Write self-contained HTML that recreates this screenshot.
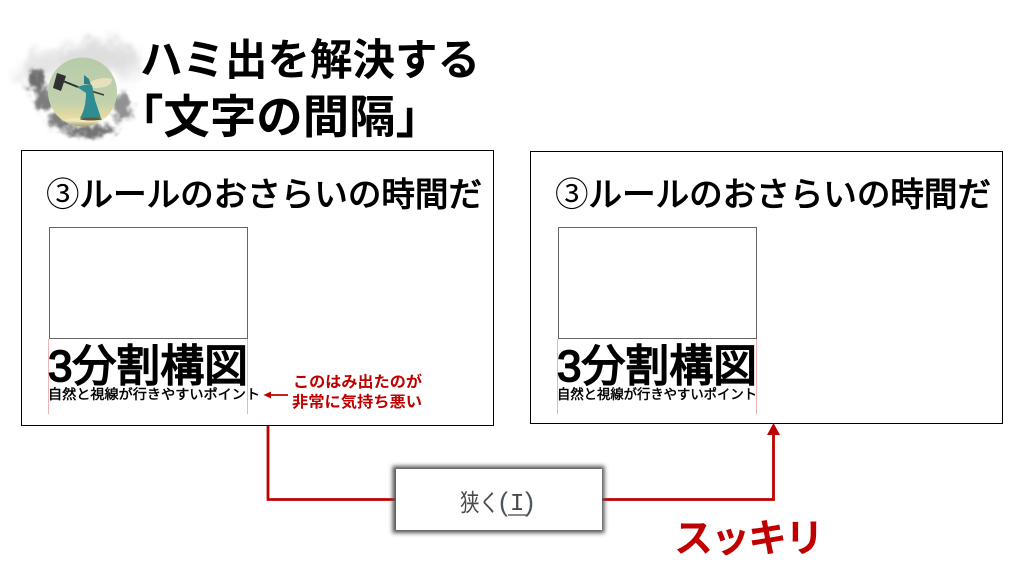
<!DOCTYPE html>
<html lang="ja"><head><meta charset="utf-8">
<style>
html,body{margin:0;padding:0;background:#fff;width:1024px;height:576px;overflow:hidden}
svg{display:block}
text{font-family:"Liberation Sans","Noto Sans CJK JP",sans-serif}
.m{font-weight:400;stroke:#000;stroke-width:1.100px}
.s{font-weight:400;stroke:#000;stroke-width:.45px}
</style></head><body>
<svg width="1024" height="576" viewBox="0 0 1024 576" xmlns="http://www.w3.org/2000/svg">
<defs>
<filter id="wisp" x="-30%" y="-30%" width="160%" height="160%">
<feTurbulence type="fractalNoise" baseFrequency="0.07" numOctaves="3" seed="4" result="n"/>
<feGaussianBlur in="SourceGraphic" stdDeviation="5" result="g"/>
<feDisplacementMap in="g" in2="n" scale="22" xChannelSelector="R" yChannelSelector="G" result="d"/>
<feGaussianBlur in="d" stdDeviation="1.200"/>
</filter>
<filter id="wispd" x="-30%" y="-30%" width="160%" height="160%">
<feTurbulence type="fractalNoise" baseFrequency="0.1" numOctaves="3" seed="9" result="n"/>
<feGaussianBlur in="SourceGraphic" stdDeviation="2.500" result="g"/>
<feDisplacementMap in="g" in2="n" scale="16" xChannelSelector="R" yChannelSelector="G" result="d"/>
<feGaussianBlur in="d" stdDeviation=".6"/>
</filter>
<filter id="b1" x="-10%" y="-20%" width="120%" height="140%"><feGaussianBlur stdDeviation="2"/></filter>
<linearGradient id="sky" x1="0" y1="0" x2="0" y2="1">
<stop offset="0" stop-color="#b7cbaa"/><stop offset=".65" stop-color="#c2d1ad"/><stop offset=".84" stop-color="#e2d9a2"/><stop offset=".92" stop-color="#ebe3b4"/><stop offset="1" stop-color="#a09a6c"/>
</linearGradient>
<clipPath id="c"><circle cx="82.500" cy="92" r="34.500"/></clipPath>
</defs>

<!-- smoke -->
<g filter="url(#wisp)">
<ellipse cx="98" cy="56" rx="40" ry="15" fill="#d6d6d6" opacity=".8"/>
<ellipse cx="48" cy="64" rx="26" ry="12" fill="#dcdcdc" opacity=".75"/>
<ellipse cx="128" cy="70" rx="11" ry="12" fill="#e2e2e2" opacity=".7"/>
<ellipse cx="26" cy="76" rx="12" ry="9" fill="#e0e0e0" opacity=".6"/>
</g>
<g filter="url(#wispd)">
<ellipse cx="36" cy="80" rx="8" ry="12" fill="#555" opacity=".85"/>
<ellipse cx="44" cy="100" rx="10" ry="11" fill="#666" opacity=".85"/>
<ellipse cx="60" cy="122" rx="12" ry="7" fill="#666" opacity=".85"/>
<ellipse cx="92" cy="131" rx="26" ry="6" fill="#5a5a5a" opacity=".85"/>
<ellipse cx="122" cy="108" rx="8" ry="15" fill="#777" opacity=".8"/>
</g>

<!-- illustration -->
<circle cx="82.500" cy="92" r="34.500" fill="url(#sky)"/>
<g clip-path="url(#c)">
<ellipse cx="92" cy="120" rx="26" ry="2" fill="#f0e8c0"/>
<path d="M90 82 Q102 76 112 79 Q112 85 104 87 Q96 89 91 87 Z" fill="#e8e0bc"/>
<path d="M63 81 L78 87" stroke="#2c2c2c" stroke-width="1.800" fill="none"/>
<path d="M78 87 L104 95" stroke="#3a3a30" stroke-width="1.500" fill="none"/>
<path d="M57 73 L66 76 L61 91 L53 88 Z" fill="#303032"/>
<path d="M77 87 L84 85 L92 85 L95 100 L101 118 L80 118 Q86 108 86 93 Z" fill="#2f8c90"/>
<path d="M84 75 L89 79 L91 85 L84 84 Z" fill="#2a8084"/>
<ellipse cx="91" cy="119" rx="11" ry="1.500" fill="#5a5a40"/>
</g>

<!-- heading -->
<text x="140" y="75" font-size="43" font-weight="700" textLength="340" lengthAdjust="spacingAndGlyphs">ハミ出を解決する</text>
<text x="117" y="133" font-size="46" font-weight="700" textLength="325" lengthAdjust="spacingAndGlyphs">「文字の間隔」</text>

<!-- left panel -->
<rect x="21.500" y="150.500" width="472" height="275" fill="#fff" stroke="#000" stroke-width="1"/>
<text x="46" y="206" font-size="33.500" class="m" textLength="436" lengthAdjust="spacingAndGlyphs"><tspan style="stroke-width:0">③</tspan>ルールのおさらいの時間だ</text>
<rect x="49.500" y="227.500" width="198" height="111" fill="#fff" stroke="#666" stroke-width="1"/>
<line x1="48.500" y1="339" x2="48.500" y2="414" stroke="#f0b3b3"/>
<line x1="247.500" y1="339" x2="247.500" y2="414" stroke="#f0b3b3"/>
<text x="48" y="381" font-size="44" class="m" style="stroke-width:1.700px" textLength="200" lengthAdjust="spacingAndGlyphs">3分割構図</text>
<text x="48" y="399" font-size="13.500" class="s" textLength="212" lengthAdjust="spacingAndGlyphs">自然と視線が行きやすいポイント</text>

<!-- red note -->
<line x1="270" y1="395" x2="288" y2="395" stroke="#c00000" stroke-width="1.800"/>
<path d="M263.500 395 L271 391.500 L271 398.500 Z" fill="#c00000"/>
<text x="293" y="387" font-size="15.500" font-weight="700" fill="#c00000" textLength="129" lengthAdjust="spacingAndGlyphs">このはみ出たのが</text>
<text x="292" y="407" font-size="15.500" font-weight="700" fill="#c00000" textLength="130" lengthAdjust="spacingAndGlyphs">非常に気持ち悪い</text>

<!-- right panel -->
<rect x="530.500" y="151.500" width="472" height="272" fill="#fff" stroke="#000" stroke-width="1"/>
<text x="555" y="206" font-size="33.500" class="m" textLength="436" lengthAdjust="spacingAndGlyphs"><tspan style="stroke-width:0">③</tspan>ルールのおさらいの時間だ</text>
<rect x="558.500" y="227.500" width="198" height="111" fill="#fff" stroke="#666" stroke-width="1"/>
<line x1="557.500" y1="339" x2="557.500" y2="414" stroke="#f0b3b3"/>
<line x1="756.500" y1="339" x2="756.500" y2="414" stroke="#f0b3b3"/>
<text x="557" y="381" font-size="44" class="m" style="stroke-width:1.700px" textLength="200" lengthAdjust="spacingAndGlyphs">3分割構図</text>
<text x="557" y="399" font-size="13.500" class="s" textLength="200" lengthAdjust="spacingAndGlyphs">自然と視線が行きやすいポイント</text>

<!-- connectors -->
<path d="M268 426 V499.500 H396" fill="none" stroke="#c00000" stroke-width="2.800"/>
<path d="M602 499.500 H773.500 V432" fill="none" stroke="#c00000" stroke-width="2.800"/>
<path d="M773.500 423 L780 435 L767 435 Z" fill="#c00000"/>

<!-- dialog button -->
<rect x="392.500" y="466" width="212" height="67" fill="#555" filter="url(#b1)"/>
<rect x="396" y="469" width="206" height="61" fill="#fff"/>
<text x="460" y="511" font-size="24" fill="#4a4a4a" textLength="39" lengthAdjust="spacingAndGlyphs">狭く</text>
<text x="499" y="511" font-size="27" fill="#4a5560">(</text>
<text x="510" y="510" font-size="24" fill="#4a4a4a" style="font-family:'Liberation Mono',monospace">I</text>
<text x="525" y="511" font-size="27" fill="#4a5560">)</text>
<line x1="508" y1="515" x2="527" y2="515" stroke="#444" stroke-width="1.200"/>

<text x="674" y="552" font-size="39" font-weight="700" fill="#c00000" textLength="150" lengthAdjust="spacing">スッキリ</text>
</svg>
</body></html>
